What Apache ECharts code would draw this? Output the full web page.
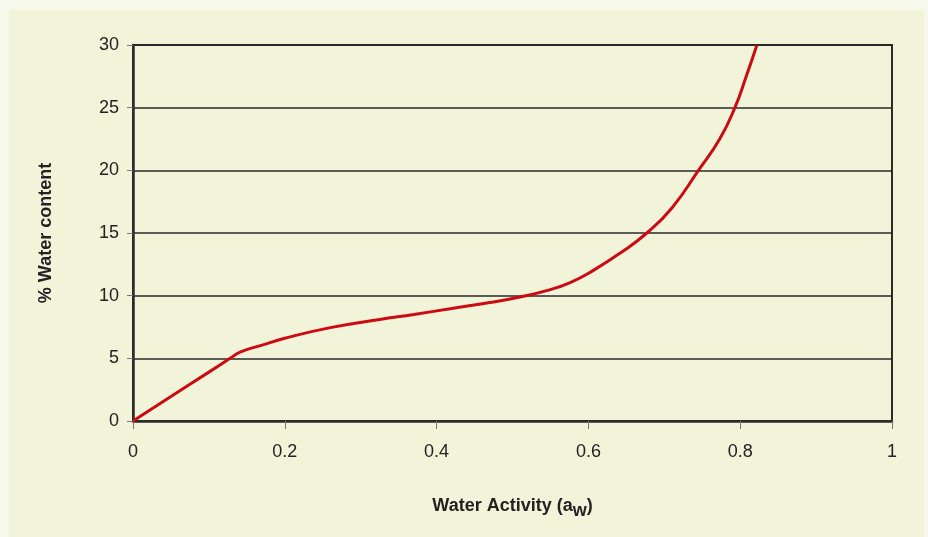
<!DOCTYPE html>
<html>
<head>
<meta charset="utf-8">
<script src="https://cdn.jsdelivr.net/npm/echarts@6/dist/echarts.min.js"></script>
<style>
  html, body { margin: 0; padding: 0; background: #f7f8ec; }
  #chart { width: 928px; height: 537px; }
</style>
</head>
<body>
<div id="chart"></div>
<script>
// water activity (x) vs % water content (y)
var activity = [0, 0.05, 0.1, 0.128, 0.141, 0.17, 0.2, 0.26, 0.325, 0.37, 0.422, 0.47, 0.51, 0.545, 0.576, 0.606, 0.642, 0.677, 0.71, 0.745, 0.773, 0.793, 0.808, 0.822];
var content  = [0, 1.95, 3.9, 5.0, 5.5, 6.05, 6.6, 7.45, 8.1, 8.5, 9.0, 9.45, 9.9, 10.4, 11.05, 12.0, 13.4, 15.0, 17.0, 20.0, 22.5, 25.0, 27.5, 30.0];

var points = [];
for (var i = 0; i < activity.length; i++) {
  points.push([activity[i], content[i]]);
}

var myChart = echarts.init(document.getElementById('chart'));
myChart.setOption({
  backgroundColor: '#f7f8ec',
  textStyle: { fontFamily: 'Liberation Sans, Arial, sans-serif' },
  animation: false,

  // inner panel
  graphic: [{
    type: 'rect',
    z: -10,
    shape: { x: 9, y: 10, width: 915, height: 527 },
    style: { fill: '#f2f4da' }
  }],

  grid: {
    left: 133,
    right: 36,
    top: 45,
    bottom: 116,
    show: true,
    borderColor: '#2b2b2b',
    borderWidth: 2
  },

  xAxis: {
    type: 'value',
    min: 0,
    max: 1,
    interval: 0.2,
    name: '{t|Water Activity (a}{s|w}{t|)}',
    nameLocation: 'center',
    nameGap: 71,
    nameTextStyle: {
      rich: {
        t: { fontSize: 18, fontWeight: 'bold', color: '#222' },
        s: { fontSize: 18, fontWeight: 'bold', color: '#222', padding: [10, 0, 0, 0] }
      }
    },
    axisLine: { show: true, lineStyle: { color: '#2b2b2b', width: 2.5 } },
    axisTick: { show: true, length: 8, lineStyle: { color: '#777', width: 1 } },
    axisLabel: { color: '#222', fontSize: 18, margin: 22 },
    splitLine: { show: false }
  },

  yAxis: {
    type: 'value',
    min: 0,
    max: 30,
    interval: 5,
    name: '% Water content',
    nameLocation: 'center',
    nameGap: 78,
    nameTextStyle: { fontSize: 18, fontWeight: 'bold', color: '#222' },
    axisLine: { show: true, lineStyle: { color: '#2b2b2b', width: 2.5 } },
    axisTick: { show: true, length: 6, lineStyle: { color: '#777', width: 1 } },
    axisLabel: { color: '#222', fontSize: 18, margin: 14 },
    splitLine: { show: true, lineStyle: { color: '#2a2a2a', width: 1.5 } }
  },

  series: [{
    type: 'line',
    data: points,
    smooth: 0.5,
    showSymbol: false,
    lineStyle: { color: '#cc0a14', width: 3 },
    z: 5
  }]
});
</script>
</body>
</html>
